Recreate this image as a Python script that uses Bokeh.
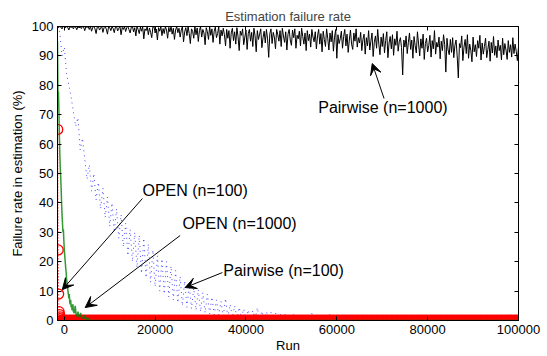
from bokeh.plotting import figure
from bokeh.models import Range1d, LinearAxis, FixedTicker, BasicTickFormatter, Arrow, VeeHead, Label
from bokeh.embed import file_html
from bokeh.resources import INLINE

FONT = "Liberation Sans"

# ---------------- data ----------------
x_ticks = [0, 20000, 40000, 60000, 80000, 100000]
y_ticks = [0, 10, 20, 30, 40, 50, 60, 70, 80, 90, 100]

run_start = -1500
pair1000_step = 250
pair100_step = 500

pairwise1000_rate = [
    100, 99.6, 100, 99.8, 99.2, 100, 100, 99.5, 100, 99.7, 98.8, 100, 99.6, 100, 99.2, 100, 99.8, 98.9, 100, 99.5,
    100, 99.3, 100, 99.8, 98.6, 100, 99.6,
    100, 99, 100, 98.4, 99.7, 100, 99.2, 97.6, 99.8, 100, 98.8, 99.5, 100, 98, 99.6, 100, 99.1, 97.4, 100, 99.6,
    98.6, 100, 99.3, 97.9, 99.8, 100, 98.5, 99.4, 100, 97.2, 99.7, 99, 100, 98.3, 99.6, 100, 98.9, 97.8, 99.8, 100,
    98.2, 99.6, 96.8, 100, 99, 97.6, 99.8, 98.4, 100, 95.8, 99.2, 98.6, 100, 97.2, 99.5, 98, 96.2, 99.8, 100, 97.8,
    99.1, 95.4, 99.6, 98.4, 100, 96.9, 99.3, 97.6, 100, 98.8, 96, 99.7, 98.2, 100, 97.4, 99.4, 95.6, 98.8, 100, 97.9,
    99.4, 96.4, 98.8, 100, 94.8, 98.2, 99.6, 96.9, 100, 97.6, 94.2, 99.2, 98.4, 96, 100, 97.2, 99.5, 94.9, 98.6, 100,
    96.4, 99, 97.8, 93.8, 99.6, 98.2, 95.6, 100, 97, 99.2, 94.6, 98.4, 99.8, 96.2, 97.6, 100, 94, 98.8, 96.8, 99.4,
    97.2, 93.4, 99, 96, 98.6, 92.6, 97.8, 99.4, 95.2, 98.2, 94, 99.6, 96.6, 91.8, 98.4, 97, 99.2, 93.8, 96.4, 98.8,
    92.2, 97.6, 99, 95, 98, 93.2, 99.4, 96.8, 91.4, 98.6, 95.6, 97.4, 99.2, 92.8, 96.2, 98.4, 94.4, 99, 95.8, 89.5,
    97.6, 99.2, 94.2, 98, 96.4, 92.4, 99, 97.2, 95, 98.6, 93.2, 99.4, 96.8, 94.6, 98.2, 92, 97.4, 99, 95.4, 93.6,
    98.8, 96.2, 99.2, 92.6, 97, 95.8, 98.4, 93.4, 99.4, 96.6, 94, 97.8, 91.8, 98.6, 95.2, 97.4, 93, 99, 96.4, 94.8,
    98.2, 92.4, 96.8, 99, 94, 97.6, 91.4, 98.4, 95.6, 93.2, 99.2, 96, 92, 97.8, 94.8, 98.6, 91.6, 96.4, 99, 89.2,
    97.2, 94.2, 95.8, 98.4, 92.6, 96.6, 99, 93.4, 97.4, 91.2, 95.4, 98.8, 94, 92.2, 97.8, 95, 99.2, 93, 96.2, 94.4,
    98, 91.8, 95.6, 97.4, 90.6, 96.2, 93.4, 98.6, 92, 95, 97.8, 89.8, 94.6, 96.8, 92.6, 99, 94, 90.4, 96.4, 93.2,
    97.6, 91, 95.2, 98.2, 89.4, 94.4, 96.6, 92.4, 97.2, 90.2, 95.8, 93.6, 98.4, 91.6, 94.8, 96.2, 92.8, 83.5, 95.4, 93,
    96.8, 90.8, 94.6, 97.8, 92.2, 95.4, 89.2, 96.6, 93.4, 91, 98.2, 94, 90, 95.8, 92.6, 97.4, 88.8, 94.2, 96, 91.4,
    93.6, 97, 89.6, 95.2, 92.4, 98.6, 90.6, 94.6, 93, 96.4, 89, 95, 91.8, 97.2, 93.8, 84.5, 96, 92, 90.4, 95.6,
    91.2, 96.2, 89.4, 93.6, 95.4, 90, 82.5, 94.2, 92.8, 96.8, 88.4, 93, 95.6, 90.8, 97.2, 89.2, 94, 92, 88, 96.4,
    91.4, 93.8, 89.8, 95.2, 92.6, 97, 88.6, 94.4, 90.6, 93.2, 96, 89.4, 92.2, 95, 88.2, 94.6, 91, 96.6, 90.2, 93.4,
    89.4, 95.4, 91.8, 93.6, 88.6, 96, 90.4, 94.2, 92, 88.8, 95.2, 91.2, 93.8, 89.6, 96.2, 90.8, 94, 91.6, 88.4, 93,
]

pairwise100_rate = [
    100, 98, 90, 93, 84, 80, 76, 71, 66, 69,
    58, 62, 55, 48, 53, 44, 50, 41, 47, 38,
    45, 35, 42, 32, 40, 30, 38, 28, 36, 25,
    33, 22, 31, 20, 30, 18, 29, 16, 28, 14.5,
    26, 13, 24, 11.5, 22, 10, 21, 9, 20, 8,
    18.5, 7, 17, 6, 15, 5, 13.5, 4.5, 12, 4,
    11, 3.5, 10.5, 3, 9.5, 2.6, 9, 2.2, 8, 2,
    7, 1.8, 6.5, 1.5, 7.5, 1.2, 5.5, 1, 5, 0.8,
    4.5, 0.8, 4, 0.6, 3.6, 0.5, 3.4, 0.5, 4.4, 0.4,
    3.2, 0.4, 3, 0.3, 2.8, 0.3, 2.6, 0.2, 2.4, 0.2,
    2.6, 0.1, 2.2, 0.1, 2, 0, 2.3, 0, 1.8, 0,
    1.6, 0, 2.4, 0, 1.4, 0, 1.5, 0, 1, 0,
    2.4, 0, 1.2, 0, 0.8, 0, 0.9, 0, 0, 0.5,
    0, 0, 1.2, 0, 0, 0, 0.6, 0, 0, 0,
    0, 0.8, 0, 0, 0, 0, 0, 0.4, 0, 0,
    0, 0, 0, 0, 1, 0, 0, 0, 0, 0,
    0, 0, 0, 0.5, 0, 0, 0, 0, 0, 0,
    0, 0, 0, 0, 0, 0, 0, 0, 0, 0,
    0, 0, 0, 0, 0, 0, 0, 0, 0, 0,
    0, 0, 0, 0, 0, 0, 0, 0, 0, 0,
    0, 0, 0, 0,
]

open1000_run = [-1500, -1400, -1300, -1200, -1100, -1000, -900, -800, -700, -600,
                -500, -400, -300, -200, -100, 0, 100, 200, 300, 400,
                500, 600, 700, 800, 900, 1000, 1100, 1200, 1300, 1400,
                1500, 1600, 1700, 1800, 1900, 2000, 2200, 2400, 2600, 2800,
                3000, 3200, 3400, 3600, 3800, 4000, 4200, 4400, 4600, 4800,
                5000, 5200, 5500, 6000, 100000]
open1000_rate = [95, 77, 78, 72, 64, 57, 52, 49, 45, 40,
                 36, 33, 30, 31, 27, 24, 22, 20, 18, 16.5,
                 14, 13, 11.5, 10, 9, 7.5, 9, 6, 5.5, 7,
                 4.5, 5.5, 3.5, 4, 5.5, 3, 2.5, 5, 2, 1.5,
                 3, 1.2, 1.5, 2.6, 0.8, 1.2, 0.6, 1.8, 0.5, 1.0,
                 0.3, 0.8, 0.2, 0, 0]

open100_run = list(range(-1450, 100001, 100))
open100_first = [65, 24, 9, 3, 2, 1.2, 0.6]
open100_rate = open100_first + [0] * (len(open100_run) - len(open100_first))

pair1000_run = [run_start + pair1000_step * i for i in range(len(pairwise1000_rate))]
pair100_run = [run_start + pair100_step * i for i in range(len(pairwise100_rate))]

# ---------------- figure ----------------
p = figure(width=547, height=356, x_range=Range1d(-1500, 100000), y_range=Range1d(0, 100),
           output_backend="svg", toolbar_location=None, title="Estimation failure rate",
           min_border_left=57, min_border_right=29, min_border_top=26, min_border_bottom=36)
p.background_fill_color = "white"
p.border_fill_color = "white"
p.outline_line_color = "black"
p.grid.visible = False

p.title.align = "center"
p.title.text_font = FONT
p.title.text_font_size = "13px"
p.title.text_font_style = "normal"
p.title.standoff = 6

def style_axis(ax, ticks, labels=True):
    ax.ticker = FixedTicker(ticks=ticks)
    ax.formatter = BasicTickFormatter(use_scientific=False)
    ax.major_tick_in = 4
    ax.major_tick_out = 0
    ax.minor_tick_line_color = None
    ax.axis_line_color = "black"
    ax.major_tick_line_color = "black"
    ax.major_label_text_font = FONT
    if labels:
        ax.major_label_text_font_size = "13px"
        ax.major_label_text_color = "black"
    else:
        ax.major_label_text_font_size = "1px"
        ax.major_label_text_color = None
        ax.major_label_standoff = 0
    ax.axis_label_text_font = FONT
    ax.axis_label_text_font_size = "13px"
    ax.axis_label_text_font_style = "normal"
    ax.axis_label_text_color = "black"

style_axis(p.xaxis[0], x_ticks)
style_axis(p.yaxis[0], y_ticks)
p.xaxis.axis_label = "Run"
p.yaxis.axis_label = "Failure rate in estimation (%)"
p.xaxis.major_label_standoff = 4
p.xaxis.axis_label_standoff = 1
p.yaxis.major_label_standoff = 4
p.yaxis.axis_label_standoff = 4

ax_r = LinearAxis()
style_axis(ax_r, y_ticks, labels=False)
p.add_layout(ax_r, "right")
ax_t = LinearAxis()
style_axis(ax_t, x_ticks, labels=False)
p.add_layout(ax_t, "above")

# ---------------- series ----------------
p.line(pair1000_run, pairwise1000_rate, line_color="black", line_width=1)
p.line(pair100_run, pairwise100_rate, line_color="blue", line_width=1, line_dash="1 4", line_alpha=0.7)
p.scatter(open100_run, open100_rate, marker="circle", size=10, fill_color=None,
          line_color="red", line_width=1.3)
p.line(open100_run, open100_rate, line_color="red", line_width=1, line_dash="1 2")
p.line(open1000_run, open1000_rate, line_color="#008000", line_width=1.5, line_alpha=0.8)

# ---------------- annotations ----------------
def note(text, tx, ty, x0, y0, x1, y1):
    p.add_layout(Arrow(end=VeeHead(size=11, fill_color="black", line_color="black"),
                       x_start=x0, y_start=y0, x_end=x1, y_end=y1,
                       line_color="black", line_width=1))
    p.add_layout(Label(x=tx, y=ty, text=text, text_font=FONT, text_font_size="16px",
                       text_baseline="middle", text_align="left", text_color="black"))

note("Pairwise (n=1000)", 55900, 72.4, 70400, 75.5, 67800, 87.4)
note("OPEN (n=100)", 17200, 44.2, 17200, 41.5, -440, 10.5)
note("OPEN (n=1000)", 26000, 33, 25500, 28.9, 4600, 4.4)
note("Pairwise (n=100)", 35000, 17, 34800, 16.3, 26600, 11.2)

open("out.html", "w").write(file_html(p, INLINE))
